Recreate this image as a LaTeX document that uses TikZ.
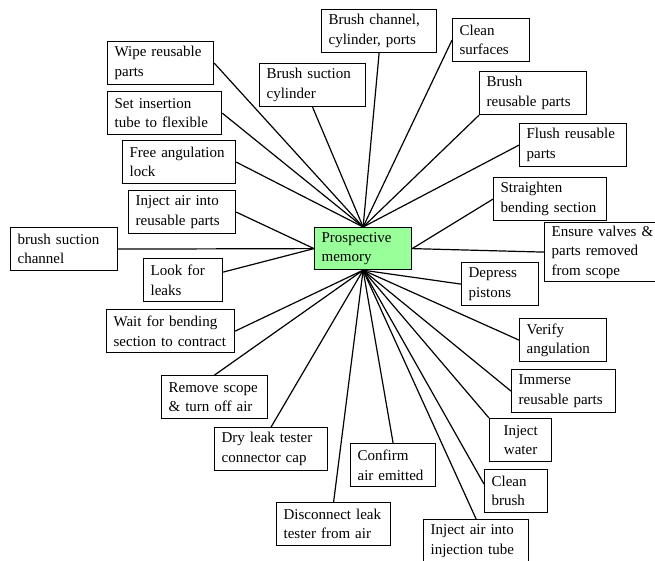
\documentclass[tikz,border=0pt]{standalone}
\usepackage{fontspec}
\setmainfont{Liberation Serif}
\usetikzlibrary{positioning}

\definecolor{hubgreen}{RGB}{153,255,153}

\begin{document}
\begin{tikzpicture}[x=1pt, y=-1pt,
    line width=1.2pt,
    every node/.style={font=\fontsize{15}{19.5}\selectfont},
    task/.style = {draw, fill=white, anchor=north west, align=left,
                   inner xsep=7pt, inner ysep=0pt, minimum height=43pt},
    hub/.style  = {task, fill=hubgreen, minimum height=42pt}
  ]
  \useasboundingbox (0,0) rectangle (655,561);

  \node[hub,  text width=83pt]  (pm)       at (314,227) {Prospective\\memory};

  \node[task, text width=92pt]  (wipe)     at (107,41)  {Wipe reusable\\parts};
  \node[task, text width=100pt] (setins)   at (107,91)  {Set insertion\\tube to flexible};
  \node[task, text width=99pt]  (free)     at (122,140) {Free angulation\\lock};
  \node[task, text width=93pt]  (injreu)   at (128,190) {Inject air into\\reusable parts};
  \node[task, text width=93pt]  (brushsc)  at (10,227)  {brush suction\\channel};
  \node[task, text width=65pt]  (look)     at (143,258) {Look for\\leaks};
  \node[task, text width=114pt] (wait)     at (106,309) {Wait for bending\\section to contract};
  \node[task, text width=92pt]  (remove)   at (161,375) {Remove scope\\\& turn off air};
  \node[task, text width=99pt]  (dry)      at (214,427) {Dry leak tester\\connector cap};
  \node[task, text width=100pt] (disc)     at (276,502) {Disconnect leak\\tester from air};
  \node[task, text width=71pt]  (confirm)  at (350,443) {Confirm\\air emitted};
  \node[task, text width=91pt]  (injtube)  at (423,519) {Inject air into\\injection tube};
  \node[task, text width=49pt]  (cleanb)   at (484,469) {Clean\\brush};
  \node[task, text width=48pt, align=center] (injw) at (489,418) {Inject\\water};
  \node[task, text width=90pt]  (immerse)  at (511,369) {Immerse\\reusable parts};
  \node[task, text width=73pt]  (verify)   at (519,318) {Verify\\angulation};
  \node[task, text width=63pt]  (depress)  at (461,262) {Depress\\pistons};
  \node[task, text width=106pt, minimum height=59pt] (ensure) at (544,222) {Ensure valves \&\\parts removed\\from scope};
  \node[task, text width=99pt]  (straight) at (493,177) {Straighten\\bending section};
  \node[task, text width=93pt]  (flush)    at (519,123) {Flush reusable\\parts};
  \node[task, text width=93pt]  (brushrp)  at (479,71)  {Brush\\reusable parts};
  \node[task, text width=63pt]  (cleans)   at (452,18)  {Clean\\surfaces};
  \node[task, text width=101pt] (brushch)  at (321,9)   {Brush channel,\\cylinder, ports};
  \node[task, text width=92pt]  (brushsuc) at (259,63)  {Brush suction\\cylinder};

  \path[draw]
  (pm.north) edge (wipe.east)
             edge (setins.east)
             edge (free.east)
             edge (brushsuc.south)
             edge (brushch.south)
             edge (cleans.west)
             edge (brushrp.south west)
             edge (flush.west)
  (pm.west)  edge (injreu.east)
             edge (brushsc.east)
             edge ([yshift=8pt]look.east)
  (pm.east)  edge (straight.west)
             edge (ensure.west)
  (pm.south) edge (wait.east)
             edge (remove.north)
             edge (dry.north)
             edge (disc.north)
             edge (confirm.north)
             edge (injtube.north)
             edge ([yshift=7pt]cleanb.west)
             edge (injw.north west)
             edge (immerse.west)
             edge (verify.west)
             edge (depress.west)
  ;
\end{tikzpicture}
\end{document}
